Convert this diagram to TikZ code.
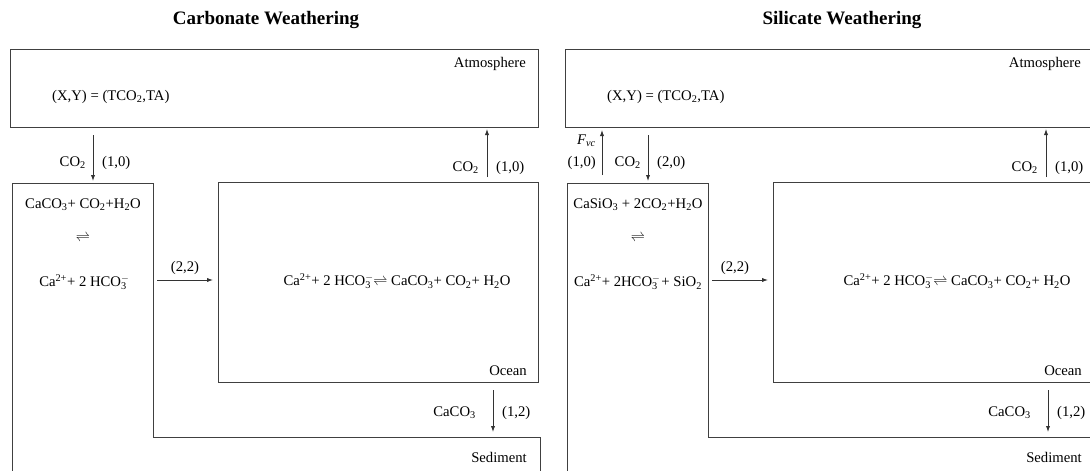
\documentclass[tikz,border=0pt]{standalone}
\usepackage{fontspec}
\setmainfont{Liberation Serif}
\usetikzlibrary{arrows.meta}
\newcommand{\hcoion}{HCO\makebox[0pt][l]{\textsuperscript{$-$}}\textsubscript{3}}
\tikzset{
  box/.style={draw=black!75, line width=0.8pt},
  rbox/.style={box, anchor=north west, inner sep=0pt},
  lbl/.style={inner sep=0pt, font=\fontsize{14.7}{16}\selectfont},
  flow/.style={draw=black!80, line width=0.8pt, -{Latex[length=6pt,width=4.2pt]}},
  ttl/.style={inner sep=0pt, font=\fontsize{19}{22}\selectfont\bfseries},
}
\begin{document}
\begin{tikzpicture}[x=1pt,y=-1pt]
\useasboundingbox (0,0) rectangle (1090,471);
\clip (0,0) rectangle (1090,471);
% ---------------- Left panel: Carbonate weathering ----------------
\node[ttl] (Lttl) at (266,20) {Carbonate Weathering};
\node[rbox, minimum width=528pt, minimum height=78pt] (Latm) at (10,49) {};
\node[lbl, anchor=east] (LatmL) at (526,64) {Atmosphere};
\node[lbl, anchor=west] (Lxy) at (52,97) {(X,Y) = (TCO\textsubscript{2},TA)};
\coordinate (La1) at (93,135);
\coordinate (La2) at (93,181);
\draw[flow] (La1) -- (La2);
\node[lbl, anchor=east] (LaC) at (86,163) {CO\textsubscript{2}};
\node[lbl, anchor=west] (LaN) at (102,163) {(1,0)};
\draw[box] (12,480) -- (12,183) -- (153,183) -- (153,437) -- (540,437) -- (540,480);
\node[rbox, minimum width=320pt, minimum height=200pt] (Locn) at (218,182) {};
\node[lbl, anchor=east] (LocnL) at (527,371) {Ocean};
\node[lbl, anchor=east] (LsedL) at (527,457) {Sediment};
\node[lbl] (Lr1) at (83,205) {CaCO\textsubscript{3}+ CO\textsubscript{2}+H\textsubscript{2}O};
\node[lbl] (Lr2) at (83,238) {$\rightleftharpoons$};
\node[lbl] (Lr3) at (83,282) {Ca\textsuperscript{2+}+ 2 \hcoion};
\coordinate (Lb1) at (157,280);
\coordinate (Lb2) at (213,280);
\draw[flow] (Lb1) -- (Lb2);
\node[lbl] (LbN) at (185,268) {(2,2)};
\node[lbl] (Leq) at (397,281) {Ca\textsuperscript{2+}+ 2 \hcoion\,$\rightleftharpoons$ CaCO\textsubscript{3}+ CO\textsubscript{2}+ H\textsubscript{2}O};
\coordinate (Lc1) at (487,177);
\coordinate (Lc2) at (487,129);
\draw[flow] (Lc1) -- (Lc2);
\node[lbl, anchor=east] (LcC) at (479,168) {CO\textsubscript{2}};
\node[lbl, anchor=west] (LcN) at (496,168) {(1,0)};
\coordinate (Ld1) at (493,390);
\coordinate (Ld2) at (493,432);
\draw[flow] (Ld1) -- (Ld2);
\node[lbl, anchor=east] (LdC) at (476,413) {CaCO\textsubscript{3}};
\node[lbl, anchor=west] (LdN) at (502,413) {(1,2)};
% ---------------- Right panel: Silicate weathering ----------------
\begin{scope}[xshift=555pt]
\node[ttl] (Rttl) at (287,20) {Silicate Weathering};
\node[rbox, minimum width=528pt, minimum height=78pt] (Ratm) at (10,49) {};
\node[lbl, anchor=east] (RatmL) at (526,64) {Atmosphere};
\node[lbl, anchor=west] (Rxy) at (52,97) {(X,Y) = (TCO\textsubscript{2},TA)};
\coordinate (Rv1) at (47,175);
\coordinate (Rv2) at (47,130);
\draw[flow] (Rv1) -- (Rv2);
\node[lbl, anchor=east] (RvF) at (41,141) {\textit{F}\textsubscript{\textit{vc}}};
\node[lbl, anchor=east] (RvN) at (41,163) {(1,0)};
\coordinate (Ra1) at (93,135);
\coordinate (Ra2) at (93,181);
\draw[flow] (Ra1) -- (Ra2);
\node[lbl, anchor=east] (RaC) at (86,163) {CO\textsubscript{2}};
\node[lbl, anchor=west] (RaN) at (102,163) {(2,0)};
\draw[box] (12,480) -- (12,183) -- (153,183) -- (153,437) -- (540,437) -- (540,480);
\node[rbox, minimum width=320pt, minimum height=200pt] (Rocn) at (218,182) {};
\node[lbl, anchor=east] (RocnL) at (527,371) {Ocean};
\node[lbl, anchor=east] (RsedL) at (527,457) {Sediment};
\node[lbl] (Rr1) at (83,205) {CaSiO\textsubscript{3} + 2CO\textsubscript{2}+H\textsubscript{2}O};
\node[lbl] (Rr2) at (83,238) {$\rightleftharpoons$};
\node[lbl] (Rr3) at (83,282) {Ca\textsuperscript{2+}+ 2\hcoion\ + SiO\textsubscript{2}};
\coordinate (Rb1) at (157,280);
\coordinate (Rb2) at (213,280);
\draw[flow] (Rb1) -- (Rb2);
\node[lbl] (RbN) at (180,268) {(2,2)};
\node[lbl] (Req) at (402,281) {Ca\textsuperscript{2+}+ 2 \hcoion\,$\rightleftharpoons$ CaCO\textsubscript{3}+ CO\textsubscript{2}+ H\textsubscript{2}O};
\coordinate (Rc1) at (491,177);
\coordinate (Rc2) at (491,129);
\draw[flow] (Rc1) -- (Rc2);
\node[lbl, anchor=east] (RcC) at (483,168) {CO\textsubscript{2}};
\node[lbl, anchor=west] (RcN) at (500,168) {(1,0)};
\coordinate (Rd1) at (493,390);
\coordinate (Rd2) at (493,432);
\draw[flow] (Rd1) -- (Rd2);
\node[lbl, anchor=east] (RdC) at (476,413) {CaCO\textsubscript{3}};
\node[lbl, anchor=west] (RdN) at (502,413) {(1,2)};
\end{scope}
\end{tikzpicture}
\end{document}
